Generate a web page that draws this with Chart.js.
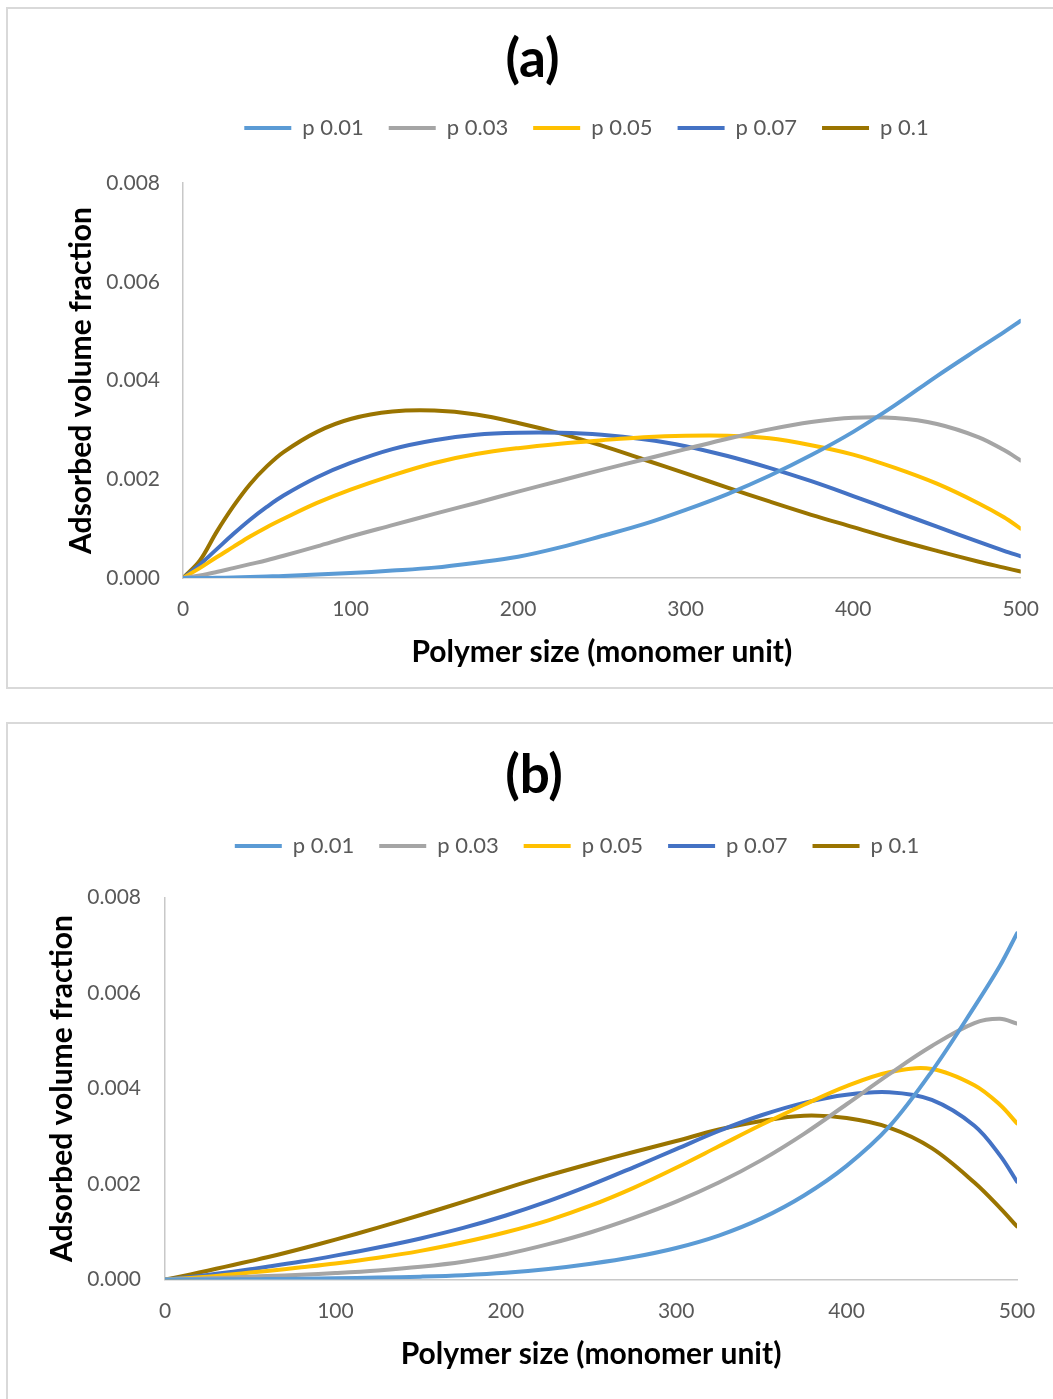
<!DOCTYPE html>
<html><head><meta charset="utf-8">
<script src="https://cdn.jsdelivr.net/npm/chart.js@4.4.0/dist/chart.umd.min.js"></script>
<style>
html,body{margin:0;padding:0;background:#fff;overflow:hidden;width:1053px;height:1399px;}
.box{position:absolute;box-sizing:border-box;border:2px solid #d9d9d9;background:#fff;}
#boxA{left:6px;top:7px;width:1100px;height:682px;}
#boxB{left:6px;top:722px;width:1100px;height:720px;}
canvas{position:absolute;}
#cA{left:8px;top:10px;}
#cB{left:8px;top:726px;}
</style></head><body>
<div class="box" id="boxA"></div><div class="box" id="boxB"></div>
<canvas id="cA" width="1050" height="677"></canvas>
<canvas id="cB" width="1050" height="673"></canvas>
<script>
// Polymer size (monomer units) sampled along the x axis
const polymerSize = [0,10,20,30,40,50,60,80,100,125,150,175,200,225,250,275,300,325,350,375,400,425,450,475,490,500];
const seriesLabels = ['p 0.01','p 0.03','p 0.05','p 0.07','p 0.1'];
const xTickValues = [0,100,200,300,400,500];
const yTickValues = [0,0.002,0.004,0.006,0.008];

// Panel (a)
const aP001 = [0,0,0.000005,0.00001,0.00002,0.00003,0.00004,0.00007,0.0001,0.00015,0.00021,0.00031,0.00043,0.00062,0.00085,0.00109,0.00138,0.0017,0.00207,0.00249,0.00296,0.0035,0.00409,0.00465,0.00498,0.00521];
const aP003 = [0,0.00005,0.00012,0.0002,0.00028,0.00036,0.00045,0.00064,0.00084,0.00107,0.0013,0.00152,0.00175,0.00197,0.00219,0.0024,0.00261,0.00282,0.00301,0.00316,0.003245,0.00324,0.00312,0.00285,0.00259,0.00238];
const aP005 = [0,0.0002,0.00042,0.00063,0.00084,0.00103,0.0012,0.00152,0.00179,0.00208,0.00233,0.00251,0.00263,0.00272,0.00279,0.00285,0.00288,0.00288,0.00283,0.00269,0.0025,0.00223,0.00191,0.00151,0.00123,0.001];
const aP007 = [0,0.00027,0.00058,0.00089,0.00118,0.00144,0.00167,0.00204,0.00233,0.00261,0.00279,0.0029,0.00294,0.00294,0.0029,0.00281,0.00267,0.00247,0.00223,0.00196,0.00166,0.00135,0.00104,0.00073,0.00055,0.00044];
const aP01  = [0,0.00035,0.00093,0.00145,0.0019,0.00226,0.00255,0.00296,0.00322,0.00337,0.00339,0.00331,0.00314,0.00293,0.00268,0.0024,0.00212,0.00183,0.00155,0.00128,0.00103,0.00078,0.00055,0.00033,0.00021,0.00013];

// Panel (b)
const bP001 = [0,0,0.000001,0.000002,0.000004,0.000006,0.000009,0.000015,0.000024,0.00004,0.00006,0.00009,0.00014,0.00022,0.00033,0.00047,0.00066,0.00092,0.00128,0.00176,0.00238,0.0032,0.00436,0.00571,0.00657,0.00725];
const bP003 = [0,0.000008,0.000018,0.00003,0.000043,0.000058,0.000073,0.0001,0.000135,0.00019,0.000265,0.00037,0.00053,0.00074,0.00099,0.00129,0.00163,0.00203,0.0025,0.00305,0.00367,0.0043,0.00489,0.00537,0.00546,0.00536];
const bP005 = [0,0.00002,0.000045,0.000075,0.00011,0.000145,0.00018,0.000255,0.000335,0.000455,0.0006,0.00078,0.00099,0.00124,0.00155,0.00192,0.00234,0.00279,0.00324,0.00366,0.00405,0.00434,0.00441,0.00407,0.00366,0.00327];
const bP007 = [0,0.000035,0.000075,0.00012,0.000165,0.000215,0.000265,0.000375,0.0005,0.00067,0.00086,0.00108,0.00134,0.00164,0.00198,0.00235,0.00273,0.00311,0.00344,0.0037,0.00387,0.00392,0.00376,0.00322,0.0026,0.00205];
const bP01  = [0,0.00007,0.000145,0.000225,0.000305,0.000385,0.000465,0.000645,0.000835,0.001085,0.00135,0.001625,0.00191,0.00218,0.00243,0.00267,0.0029,0.00314,0.00332,0.00343,0.00338,0.00318,0.00275,0.00203,0.0015,0.00111];

const seriesColors = ['#5B9BD5','#A5A5A5','#FFC000','#4472C4','#9A7400'];

Chart.defaults.font.family = "Lato, 'Open Sans', sans-serif";
Chart.defaults.color = '#595959';

const legendShift = {
  id: 'legendShift',
  afterLayout(chart, args, opts) {
    const lg = chart.legend;
    if (!lg) return;
    lg.left += opts.dx; lg.right += opts.dx;
    lg.top += opts.dy; lg.bottom += opts.dy;
  }
};

function makeChart(id, title, series, L) {
  const datasets = series.map((arr, i) => ({
    label: seriesLabels[i],
    data: polymerSize.map((x, j) => ({x: x, y: arr[j]})),
    borderColor: seriesColors[i],
    backgroundColor: seriesColors[i],
    borderWidth: 4,
    pointRadius: 0,
    pointHoverRadius: 0,
    tension: 0.35,
    borderCapStyle: 'round',
    borderJoinStyle: 'round',
    fill: false
  }));
  return new Chart(document.getElementById(id), {
    type: 'line',
    data: { datasets },
    plugins: [legendShift],
    options: {
      responsive: false,
      animation: false,
      devicePixelRatio: 1,
      events: [],
      layout: { padding: { left: L.padLeft, right: L.padRight, top: 0, bottom: 0 } },
      plugins: {
        legendShift: { dx: L.legendDx, dy: L.legendDy },
        tooltip: { enabled: false },
        title: {
          display: true, text: title, color: '#000',
          font: { size: 53, weight: 'bold', lineHeight: 1.2 },
          padding: { top: 18.2, bottom: L.titleBottom }
        },
        legend: {
          display: true, position: 'top',
          labels: {
            usePointStyle: true, pointStyle: 'line', pointStyleWidth: 47,
            padding: 25, color: '#595959', font: { size: 22 }
          }
        }
      },
      scales: {
        x: {
          type: 'linear', min: 0, max: 500,
          afterBuildTicks: s => { s.ticks = xTickValues.map(v => ({value: v})); },
          afterFit: s => { s.height = L.xHeight; },
          grid: { display: false, drawTicks: false },
          border: { display: true, color: '#c8c8c8', width: 1.5 },
          ticks: { padding: L.xTickPad, font: { size: 21 }, color: '#595959', maxRotation: 0 },
          title: { display: true, text: 'Polymer size (monomer unit)', color: '#000',
                   font: { size: 30, weight: 'bold', lineHeight: 1.2 },
                   padding: { top: 0, bottom: L.xTitleBottom } }
        },
        y: {
          type: 'linear', min: 0, max: 0.008,
          afterBuildTicks: s => { s.ticks = yTickValues.map(v => ({value: v})); },
          afterFit: s => { s.width = L.yWidth; },
          grid: { display: false, drawTicks: false },
          border: { display: true, color: '#c8c8c8', width: 1.5 },
          ticks: { padding: L.yTickPad, font: { size: 21 }, color: '#595959',
                   callback: v => Number(v).toFixed(3) },
          title: { display: true, text: 'Adsorbed volume fraction', color: '#000',
                   font: { size: 30, weight: 'bold', lineHeight: 1.2 },
                   padding: { top: L.yTitleTop, bottom: 0 } }
        }
      }
    }
  });
}

makeChart('cA', '(a)', [aP001, aP003, aP005, aP007, aP01], {
  padLeft: 36, padRight: 37, yWidth: 139, xHeight: 109,
  titleBottom: 34.2, legendDx: 54, legendDy: -34,
  xTickPad: 19, xTitleBottom: 17, yTickPad: 23, yTitleTop: 19
});
makeChart('cB', '(b)', [bP001, bP003, bP005, bP007, bP01], {
  padLeft: 43, padRight: 41, yWidth: 114, xHeight: 119.5,
  titleBottom: 32.7, legendDx: 43, legendDy: -30.5,
  xTickPad: 19, xTitleBottom: 27, yTickPad: 24, yTitleTop: -7
});
</script>
</body></html>
